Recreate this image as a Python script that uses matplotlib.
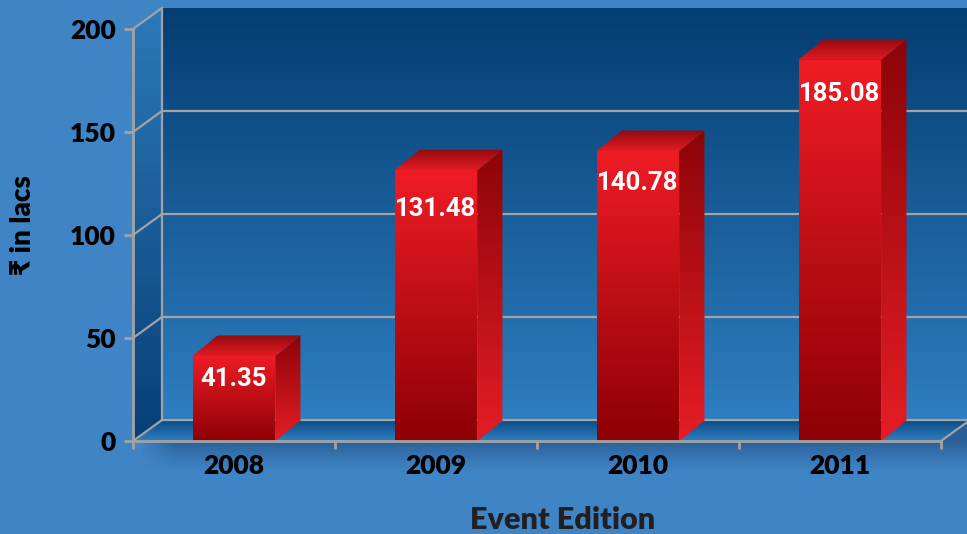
import numpy as np
import matplotlib
matplotlib.use("Agg")
import matplotlib.pyplot as plt
from matplotlib.patches import Polygon
from matplotlib.colors import to_rgb

# ---------------- data ----------------
categories = ["2008", "2009", "2010", "2011"]
values = [41.35, 131.48, 140.78, 185.08]
value_labels = ["41.35", "131.48", "140.78", "185.08"]
y_ticks = [0, 50, 100, 150, 200]
x_label = "Event Edition"
y_label = "₹ in lacs"

# ---------------- style ----------------
BG = "#3f84c5"
WALL_TOP, WALL_BOT = "#043d71", "#2e7ec1"
SIDE_TOP, SIDE_BOT = "#2c79ba", "#073f77"
FLOOR_BACK, FLOOR_FRONT = "#0a4883", "#2f7ec0"
GRID = "#a3a3a3"
FRONT_TOP, FRONT_BOT = "#ef1c25", "#8d0005"
SIDE_B_TOP, SIDE_B_BOT = "#8c0408", "#e51d25"
TOP_BACK, TOP_FRONT = "#930a0e", "#e11b23"
label_offsets_pt = [17, 28, 23, 25]

TICK_FONT = ["Lato", "DejaVu Sans"]
VAL_FONT = ["Roboto", "DejaVu Sans"]

fig = plt.figure(figsize=(9.67, 5.34), dpi=100, facecolor=BG)
ax = fig.add_axes([133 / 967, 93 / 534, 808 / 967, 412 / 534])
ax.set_facecolor("none")

x = np.arange(len(categories))
x0, x1 = -0.5, len(categories) - 0.5
ymin, ymax = y_ticks[0], y_ticks[-1]
WDX, WDY = 0.1436, 10.2      # wall depth
BDX, BDY = 0.124, 9.9        # bar depth
BAR_W = 0.41


def vgrad(verts, c_top, c_bot, z):
    poly = Polygon(verts, closed=True, transform=ax.transData)
    xs = [v[0] for v in verts]
    ys = [v[1] for v in verts]
    t = np.linspace(0, 1, 256)[:, None]
    a = np.array(to_rgb(c_top))
    b = np.array(to_rgb(c_bot))
    arr = (a * (1 - t) + b * t)[:, None, :]
    im = ax.imshow(arr, extent=(min(xs), max(xs), min(ys), max(ys)),
                   aspect="auto", interpolation="bilinear", zorder=z,
                   origin="upper")
    im.set_clip_path(poly)
    im.set_clip_box(fig.bbox)
    return im


# shadow under the floor
ny, nx = 64, 200
tx = np.linspace(0, 1, nx)[None, :]
shadow = np.zeros((ny, nx, 4))
shadow[..., :3] = to_rgb("#0b2c55")
yy = np.linspace(WDY, -16, ny)[:, None]
alpha_y = np.where(yy >= 0, 0.42, 0.42 * np.clip(1 + yy / 16, 0, 1) ** 1.4)
shadow[..., 3] = alpha_y * np.clip(tx / 0.04, 0, 1)
sh = ax.imshow(shadow, extent=(x0 + 0.03, x1 + 0.35, -16, WDY), aspect="auto",
               interpolation="bilinear", zorder=0.5, origin="upper")
sh.set_clip_box(fig.bbox)

# back wall, side wall, floor
vgrad([(x0 + WDX, WDY), (x1 + WDX, WDY), (x1 + WDX, ymax + WDY), (x0 + WDX, ymax + WDY)],
      WALL_TOP, WALL_BOT, 0.6)
vgrad([(x0, ymin), (x0 + WDX, WDY), (x0 + WDX, ymax + WDY), (x0, ymax)],
      SIDE_TOP, SIDE_BOT, 0.7)
vgrad([(x0, ymin), (x1, ymin), (x1 + WDX, WDY), (x0 + WDX, WDY)],
      FLOOR_BACK, FLOOR_FRONT, 0.8)

# grid lines
glw = 1.6
for v in y_ticks:
    ax.plot([x0, x0 + WDX], [v, v + WDY], color=GRID, lw=glw, clip_on=False, zorder=1.5,
            solid_capstyle="butt")
    if v < ymax:
        ax.plot([x0 + WDX, x1 + WDX], [v + WDY, v + WDY], color=GRID, lw=glw,
                clip_on=False, zorder=1.5)
ax.plot([x0 + WDX, x0 + WDX], [WDY, ymax + WDY], color=GRID, lw=glw, clip_on=False, zorder=1.5)
ax.plot([x1, x1 + WDX], [ymin, WDY], color=GRID, lw=glw, clip_on=False, zorder=1.5)

# bars
bars = ax.bar(x, values, width=BAR_W, color="none", edgecolor="none", zorder=3)
for rect in bars:
    bx, bw, bh = rect.get_x(), rect.get_width(), rect.get_height()
    vgrad([(bx + bw, 0), (bx + bw + BDX, BDY), (bx + bw + BDX, bh + BDY), (bx + bw, bh)],
          SIDE_B_TOP, SIDE_B_BOT, 3)
    vgrad([(bx, bh), (bx + bw, bh), (bx + bw + BDX, bh + BDY), (bx + BDX, bh + BDY)],
          TOP_BACK, TOP_FRONT, 3.1)
    vgrad([(bx, 0), (bx + bw, 0), (bx + bw, bh), (bx, bh)],
          FRONT_TOP, FRONT_BOT, 3.2)

for xi, v, lbl, off in zip(x, values, value_labels, label_offsets_pt):
    ax.annotate(lbl, xy=(xi, v), xytext=(0, -off), textcoords="offset points",
                ha="center", va="center", color="white", fontsize=18.5,
                fontweight="bold", family=VAL_FONT, zorder=5, annotation_clip=False)

# axes, ticks
ax.set_xlim(x0, x1)
ax.set_ylim(ymin, ymax)
ax.set_yticks(y_ticks)
ax.set_yticklabels([str(t) for t in y_ticks])
ax.set_xticks(np.arange(len(categories) + 1) - 0.5)
ax.set_xticklabels([])
ax.set_xticks(x, minor=True)
ax.set_xticklabels(categories, minor=True)
ax.tick_params(axis="x", which="major", length=6, width=2, color=GRID, direction="out")
ax.tick_params(axis="x", which="minor", length=0, pad=9)
ax.tick_params(axis="y", length=6.5, width=2, color=GRID, direction="out", pad=6)
for lab in ax.get_xticklabels(minor=True) + ax.get_yticklabels():
    lab.set_fontsize(19)
    lab.set_fontweight("heavy")
    lab.set_family(TICK_FONT)
    lab.set_color("black")

for s in ["top", "right"]:
    ax.spines[s].set_visible(False)
for s in ["left", "bottom"]:
    ax.spines[s].set_color(GRID)
    ax.spines[s].set_linewidth(2)
    ax.spines[s].set_zorder(6)

ax.set_ylabel(y_label, fontsize=20, fontweight="heavy", family=TICK_FONT,
              color="black", va="center")
ax.yaxis.set_label_coords(-0.136, 0.524)
ax.set_xlabel(x_label, fontsize=22, fontweight="heavy", family=TICK_FONT,
              color="#231f20", va="baseline")
ax.xaxis.set_label_coords(0.532, -0.2136)

fig.savefig("out.png", dpi=100, facecolor=BG)
